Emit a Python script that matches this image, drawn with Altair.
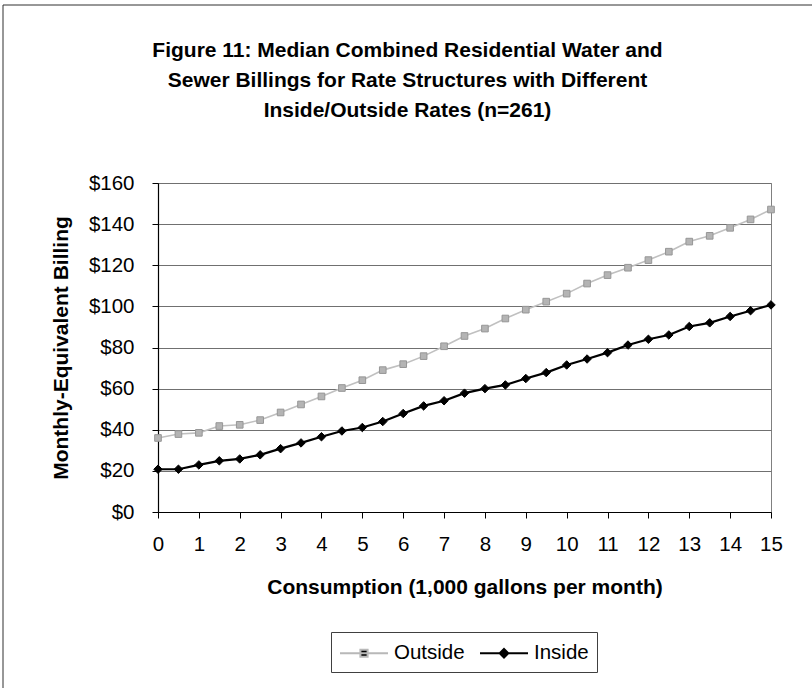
import altair as alt
import pandas as pd

# ---------------- data ----------------
consumption = [0, 0.5, 1, 1.5, 2, 2.5, 3, 3.5, 4, 4.5, 5, 5.5, 6, 6.5, 7, 7.5,
               8, 8.5, 9, 9.5, 10, 10.5, 11, 11.5, 12, 12.5, 13, 13.5, 14, 14.5, 15]
outside = [36.0, 37.9, 38.5, 41.8, 42.4, 44.7, 48.4, 52.3, 56.2, 60.3, 64.1,
           69.0, 71.9, 75.8, 80.6, 85.6, 89.2, 94.1, 98.4, 102.3, 106.2, 111.1,
           115.2, 118.8, 122.5, 126.6, 131.5, 134.3, 138.2, 142.3, 147.1]
inside = [20.8, 20.8, 22.9, 24.9, 25.8, 27.8, 30.8, 33.6, 36.6, 39.4, 41.1,
          44.0, 47.9, 51.6, 54.1, 57.8, 60.0, 61.8, 64.9, 67.8, 71.5, 74.4,
          77.5, 81.2, 84.0, 86.1, 90.2, 92.0, 95.1, 97.9, 100.7]
series_names = ["Outside", "Inside"]
x_ticks = [0, 1, 2, 3, 4, 5, 6, 7, 8, 9, 10, 11, 12, 13, 14, 15]
y_ticks = [0, 20, 40, 60, 80, 100, 120, 140, 160]
title_lines = [
    "Figure 11: Median Combined Residential Water and",
    "Sewer Billings for Rate Structures with Different",
    "Inside/Outside Rates (n=261)",
]
x_title = "Consumption (1,000 gallons per month)"
y_title = "Monthly-Equivalent Billing"

df = pd.DataFrame({
    "Consumption": consumption + consumption,
    "Billing": outside + inside,
    "Series": [series_names[0]] * len(outside) + [series_names[1]] * len(inside),
})

FONT = "Liberation Sans"
W, H = 613, 329

x = alt.X(
    "Consumption:Q",
    scale=alt.Scale(domain=[0, 15], nice=False, zero=False),
    axis=alt.Axis(
        values=x_ticks, grid=False, title=x_title,
        labelFont=FONT, labelFontSize=20.5, labelColor="black", labelPadding=16,
        labelFlush=False, labelOverlap=False,
        tickSize=6, tickColor="black", tickWidth=1,
        domainColor="black", domainWidth=1.2,
        titleFont=FONT, titleFontSize=21, titleFontWeight="bold", titleColor="black",
        titleX=W / 2, titleY=81, titleAlign="center", titleBaseline="alphabetic",
    ),
)
y = alt.Y(
    "Billing:Q",
    scale=alt.Scale(domain=[0, 160], nice=False),
    axis=alt.Axis(
        values=y_ticks, labelExpr="'$' + datum.value",
        grid=True, gridColor="#707070", gridWidth=1,
        labelFont=FONT, labelFontSize=20.5, labelColor="black", labelPadding=18,
        labelFlush=False, labelOverlap=False,
        tickSize=6, tickColor="black", tickWidth=1,
        domainColor="black", domainWidth=1.2,
        title=y_title,
        titleFont=FONT, titleFontSize=21, titleFontWeight="bold", titleColor="black",
        titleAngle=270, titleX=-97, titleY=H / 2, titleAlign="center", titleBaseline="middle",
    ),
)

# legend glyphs: a line segment with the marker in its middle
outside_path = "M-1,0H3M0.7,-0.3H1.3V0.3H0.7Z"
inside_path = "M-1,0H3M1,-0.36L1.36,0L1,0.36L0.64,0Z"

legend = alt.Legend(
    title=None, orient="none", direction="horizontal", columns=2,
    legendX=173, legendY=449,
    labelFont=FONT, labelFontSize=20.5, labelColor="black", labelOffset=29,
    symbolSize=576, symbolStrokeWidth=2, symbolOpacity=1,
    columnPadding=11, padding=8,
    strokeColor="#404040", fillColor="white",
)

lines = alt.Chart(df).mark_line().encode(
    x=x, y=y,
    color=alt.Color("Series:N", scale=alt.Scale(domain=series_names, range=["#c0c0c0", "#000000"]),
                    legend=None),
    strokeWidth=alt.StrokeWidth("Series:N", scale=alt.Scale(domain=series_names, range=[1.6, 2.2]),
                                legend=None),
)

points = alt.Chart(df).mark_point(filled=True, opacity=1, strokeWidth=1).encode(
    x=x, y=y,
    fill=alt.Fill("Series:N", scale=alt.Scale(domain=series_names, range=["#b4b4b4", "#000000"]),
                  legend=None),
    stroke=alt.Stroke("Series:N", scale=alt.Scale(domain=series_names, range=["#969696", "#000000"]),
                      legend=None),
    shape=alt.Shape("Series:N", scale=alt.Scale(domain=series_names, range=["square", "diamond"]),
                    legend=None),
    size=alt.Size("Series:N", scale=alt.Scale(domain=series_names, range=[44, 72]), legend=None),
)

# legend-only layer (no rows drawn)
legend_layer = alt.Chart(df).transform_filter("false").mark_point(filled=True, opacity=1).encode(
    x=x, y=y,
    color=alt.Color("Series:N", scale=alt.Scale(domain=series_names, range=["#c0c0c0", "#000000"]),
                    legend=legend),
    stroke=alt.Stroke("Series:N", scale=alt.Scale(domain=series_names, range=["#b8b8b8", "#000000"]),
                      legend=legend),
    shape=alt.Shape("Series:N", scale=alt.Scale(domain=series_names, range=[outside_path, inside_path]),
                    legend=legend),
)

frame_df = pd.DataFrame({"k": [0]})
border_top = alt.Chart(frame_df).mark_rule(color="#303030", strokeWidth=1).encode(
    x=alt.value(-155), x2=alt.value(660), y=alt.value(-178))
border_left = alt.Chart(frame_df).mark_rule(color="#303030", strokeWidth=1).encode(
    x=alt.value(-155), y=alt.value(-178), y2=alt.value(510))

chart = alt.layer(lines, points, legend_layer, border_top, border_left).resolve_scale(
    shape="independent", stroke="independent"
).properties(
    width=W, height=H,
    title=alt.Title(
        text=title_lines, font=FONT, fontSize=21, fontWeight="bold", color="black",
        anchor="middle", frame="group", lineHeight=30, offset=0, baseline="alphabetic",
        dx=-57, dy=133,
    ),
    autosize=alt.AutoSizeParams(type="none"),
    padding={"left": 158, "top": 183, "right": 41, "bottom": 176},
    background="white",
).configure_view(stroke="#808080", strokeWidth=1)

chart.save("out.html", embed_options={"renderer": "svg", "actions": False})
